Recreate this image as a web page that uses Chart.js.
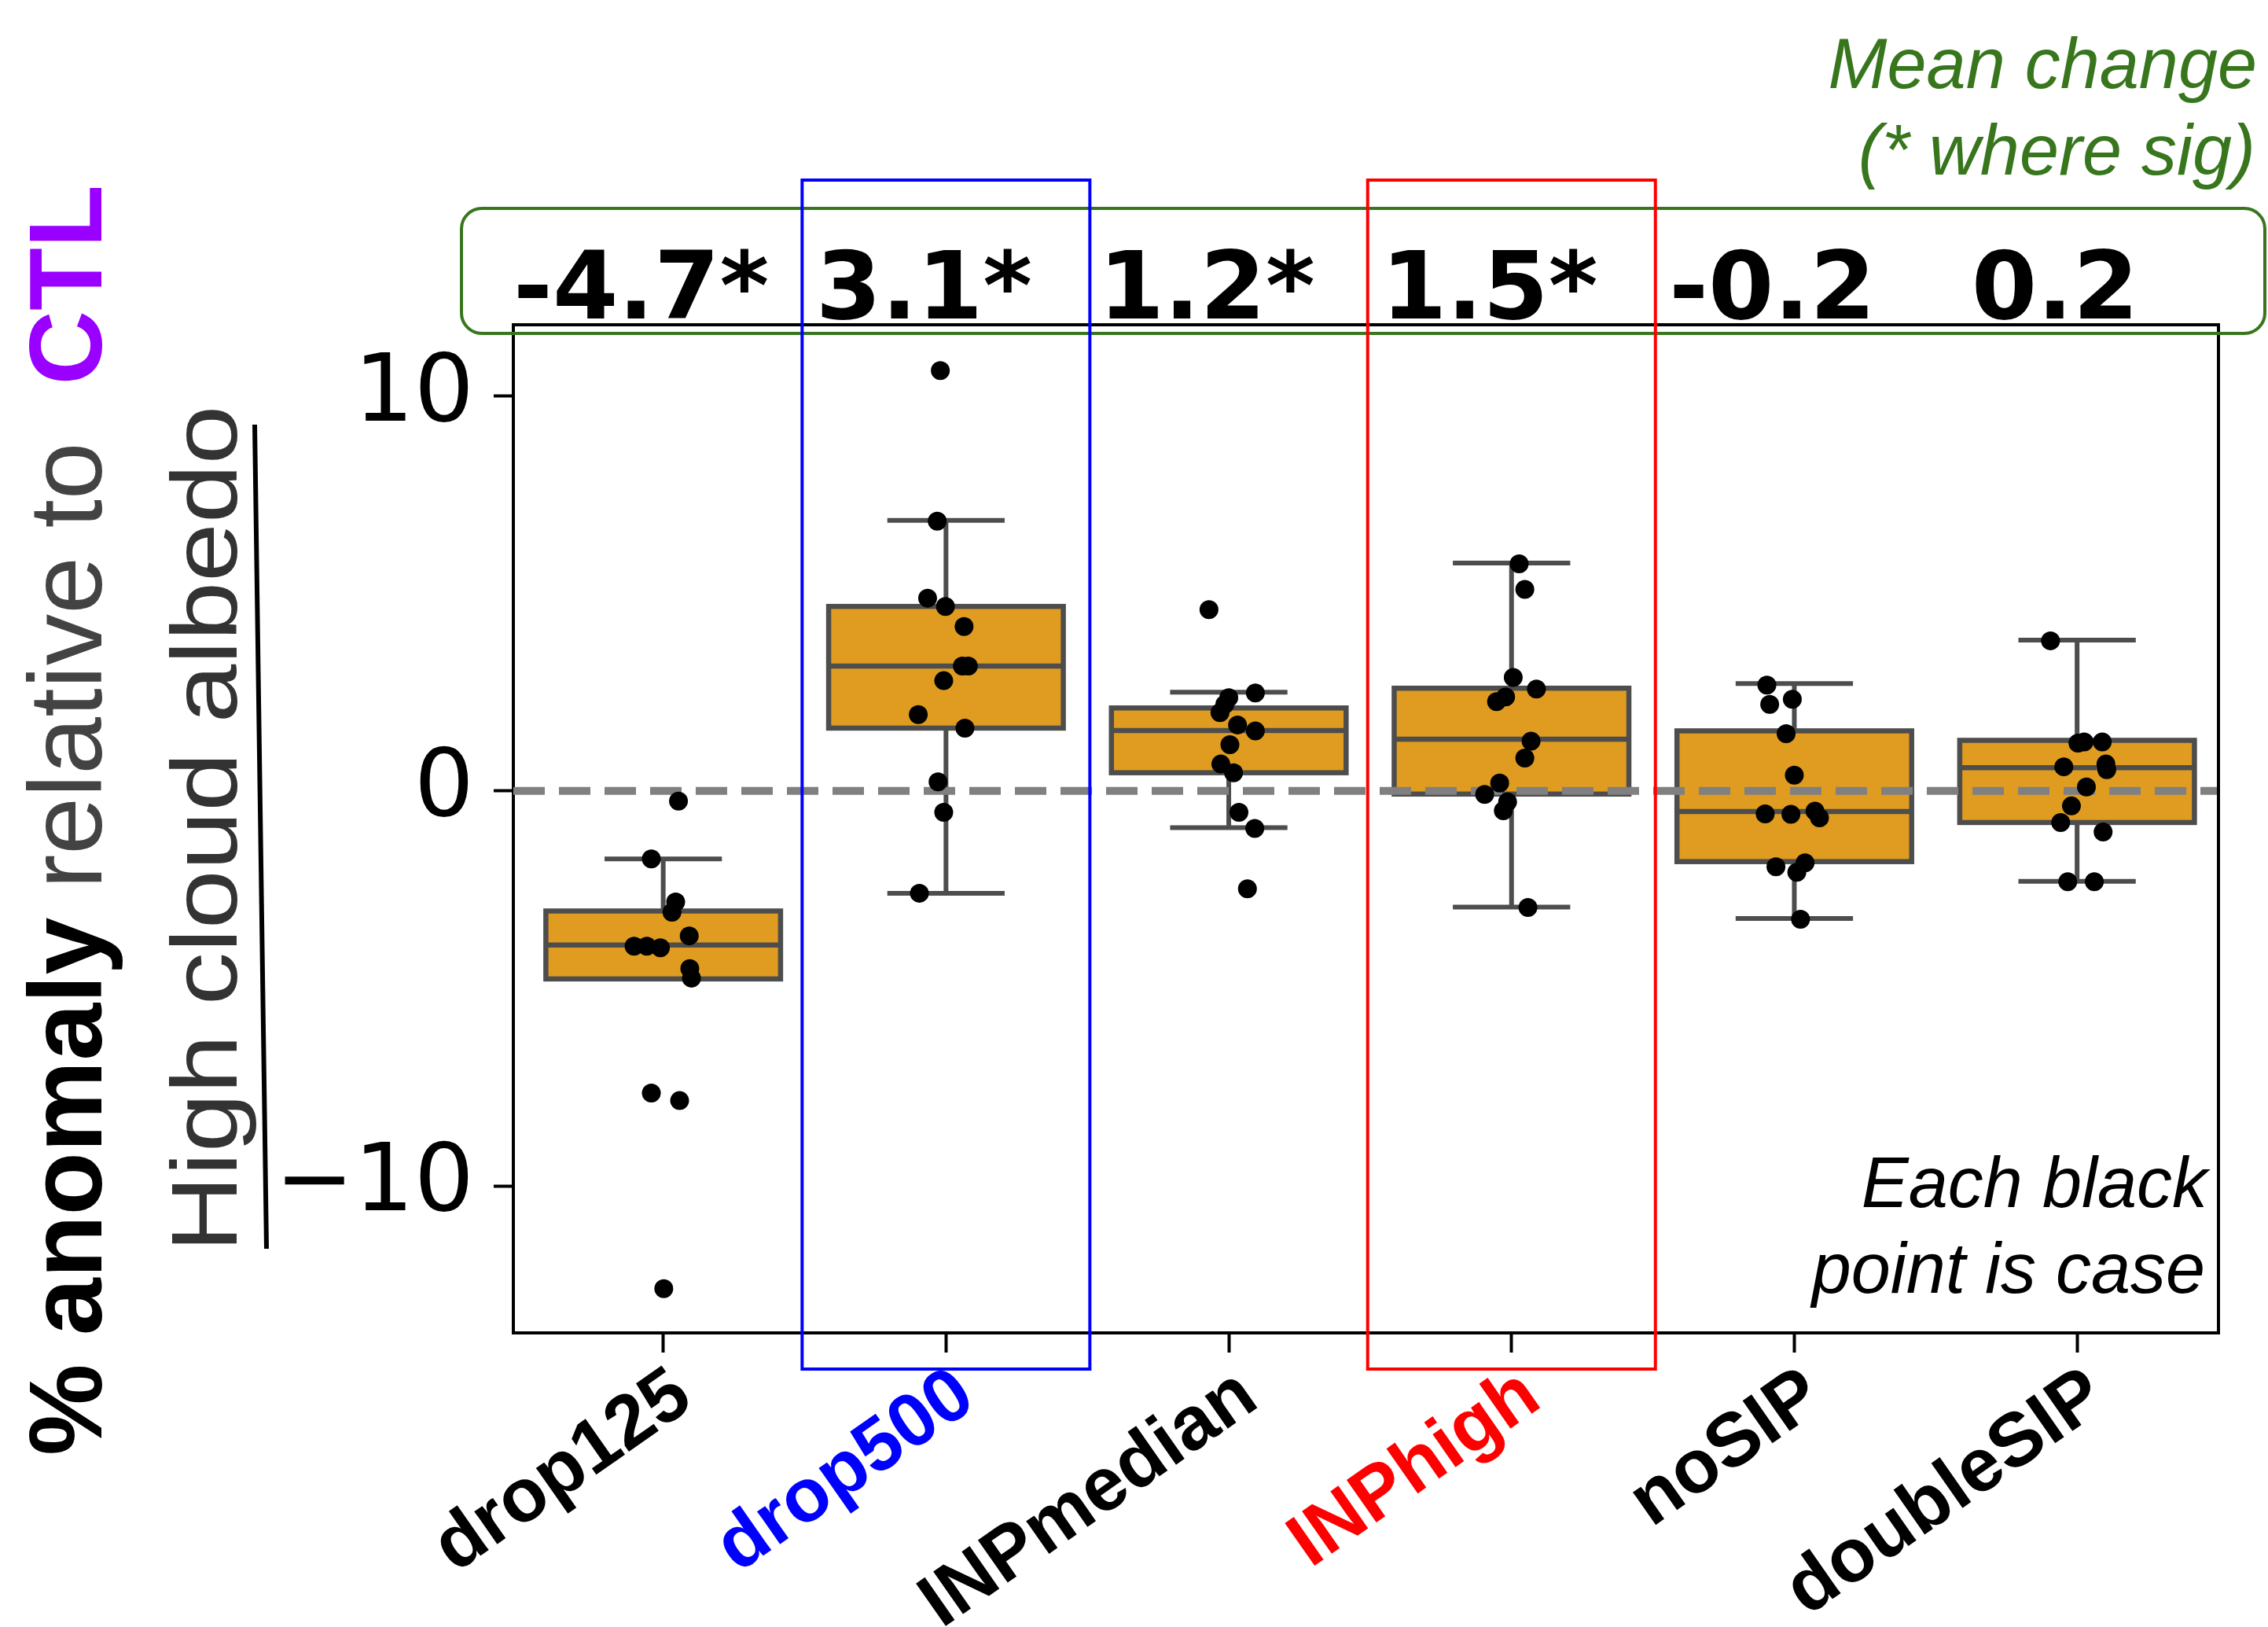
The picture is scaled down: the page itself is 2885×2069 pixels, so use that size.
<!DOCTYPE html>
<html>
<head>
<meta charset="utf-8">
<title>High cloud albedo anomaly by sensitivity run</title>
<script src="https://cdn.jsdelivr.net/npm/chart.js@4.4.1/dist/chart.umd.min.js"></script>
<style>
  html, body { margin: 0; padding: 0; background: #ffffff; }
  canvas { display: block; }
</style>
</head>
<body>
<canvas id="albedoChart" width="2885" height="2069"></canvas>
<script>
// ---- data -------------------------------------------------------------
const runs = ['drop125', 'drop500', 'INPmedian', 'INPhigh', 'noSIP', 'doubleSIP'];
const runColors = ['#000000', '#0000FF', '#000000', '#FF0000', '#000000', '#000000'];
const highlightedRuns = ['drop500', 'INPhigh'];

// mean change of each run, and whether it is significant
const meanChange = ['-4.7', '3.1', '1.2', '1.5', '-0.2', '0.2'];
const significant = [true, true, true, true, false, false];

// box statistics (% anomaly)
const q1 = [-4.76, 1.59, 0.46, -0.08, -1.79, -0.80];
const median = [-3.90, 3.16, 1.53, 1.31, -0.52, 0.59];
const q3 = [-3.04, 4.67, 2.10, 2.60, 1.52, 1.28];
const whiskerLow = [-4.76, -2.59, -0.93, -2.94, -3.23, -2.29];
const whiskerHigh = [-1.72, 6.85, 2.50, 5.77, 2.72, 3.82];

// individual cases (% anomaly) and their strip jitter (fraction of a category)
const drop125Cases = [-0.26, -1.72, -2.81, -3.07, -3.67, -3.93, -3.93, -3.97, -4.50, -4.74, -7.65, -7.84, -12.60];
const drop125Jitter = [0.054, -0.042, 0.044, 0.031, 0.092, -0.103, -0.058, -0.010, 0.094, 0.100, -0.042, 0.058, 0.002];
const drop500Cases = [10.64, 6.83, 4.88, 4.67, 4.16, 3.16, 3.16, 2.79, 1.93, 1.59, 0.23, -0.54, -2.59];
const drop500Jitter = [-0.020, -0.031, -0.065, -0.002, 0.064, 0.058, 0.079, -0.008, -0.098, 0.067, -0.028, -0.008, -0.094];
const inpMedianCases = [4.59, 2.48, 2.36, 2.19, 1.98, 1.67, 1.52, 1.17, 0.68, 0.46, -0.54, -0.95, -2.48];
const inpMedianJitter = [-0.070, 0.094, 0.000, -0.014, -0.031, 0.031, 0.094, 0.004, -0.028, 0.017, 0.036, 0.092, 0.066];
const inpHighCases = [5.75, 5.10, 2.87, 2.58, 2.38, 2.26, 1.26, 0.83, 0.20, -0.09, -0.28, -0.50, -2.95];
const inpHighJitter = [0.027, 0.047, 0.006, 0.088, -0.021, -0.053, 0.069, 0.047, -0.042, -0.095, -0.014, -0.029, 0.058];
const noSipCases = [2.68, 2.32, 2.19, 1.45, 0.40, -0.58, -0.59, -0.51, -0.68, -1.82, -1.92, -2.06, -3.25];
const noSipJitter = [-0.097, -0.007, -0.087, -0.029, 0.000, -0.103, -0.012, 0.073, 0.089, 0.038, -0.065, 0.009, 0.022];
const doubleSipCases = [3.80, 1.24, 1.24, 1.21, 0.68, 0.54, 0.61, 0.10, -0.38, -0.80, -1.04, -2.30, -2.30];
const doubleSipJitter = [-0.094, 0.025, 0.089, 0.003, 0.102, 0.105, -0.047, 0.033, -0.020, -0.058, 0.092, -0.033, 0.061];

const yTickValues = [-10, 0, 10];

// ---- build the point dataset ---------------------------------------------
const caseValues = [drop125Cases, drop500Cases, inpMedianCases, inpHighCases, noSipCases, doubleSipCases];
const caseJitter = [drop125Jitter, drop500Jitter, inpMedianJitter, inpHighJitter, noSipJitter, doubleSipJitter];
const casePoints = [];
caseValues.forEach((vals, i) => {
  vals.forEach((v, k) => casePoints.push({ x: i + caseJitter[i][k], y: v }));
});

// ---- style constants -----------------------------------------------------
const SANS = '"Liberation Sans", Arial, sans-serif';
const DEJAVU = '"DejaVu Sans", sans-serif';
const BOX_FILL = '#DF9C20';
const BOX_EDGE = '#4d4d4d';
const GREEN = '#38761D';
const BOX_HALF = 0.415;   // half box width, category units
const CAP_HALF = 0.2075;  // half whisker-cap width

function roundRectPath(ctx, x, y, w, h, r) {
  ctx.beginPath();
  ctx.moveTo(x + r, y);
  ctx.lineTo(x + w - r, y);
  ctx.arcTo(x + w, y, x + w, y + r, r);
  ctx.lineTo(x + w, y + h - r);
  ctx.arcTo(x + w, y + h, x + w - r, y + h, r);
  ctx.lineTo(x + r, y + h);
  ctx.arcTo(x, y + h, x, y + h - r, r);
  ctx.lineTo(x, y + r);
  ctx.arcTo(x, y, x + r, y, r);
  ctx.closePath();
}

// white page background
const background = {
  id: 'background',
  beforeDraw(chart) {
    const { ctx, width, height } = chart;
    ctx.save();
    ctx.fillStyle = '#ffffff';
    ctx.fillRect(0, 0, width, height);
    ctx.restore();
  }
};

// boxes, whiskers, medians and the zero reference line (under the points)
const boxes = {
  id: 'boxes',
  beforeDatasetsDraw(chart) {
    const { ctx, chartArea, scales: { x, y } } = chart;
    ctx.save();
    ctx.lineCap = 'butt';
    runs.forEach((run, i) => {
      const xc = x.getPixelForValue(i);
      const xl = x.getPixelForValue(i - BOX_HALF);
      const xr = x.getPixelForValue(i + BOX_HALF);
      const cl = x.getPixelForValue(i - CAP_HALF);
      const cr = x.getPixelForValue(i + CAP_HALF);
      const yq1 = y.getPixelForValue(q1[i]);
      const yq3 = y.getPixelForValue(q3[i]);
      const ym = y.getPixelForValue(median[i]);
      const ylo = y.getPixelForValue(whiskerLow[i]);
      const yhi = y.getPixelForValue(whiskerHigh[i]);

      ctx.strokeStyle = BOX_EDGE;
      ctx.lineWidth = 6;
      ctx.beginPath();
      ctx.moveTo(xc, yq3); ctx.lineTo(xc, yhi);
      ctx.moveTo(xc, yq1); ctx.lineTo(xc, ylo);
      ctx.moveTo(cl, yhi); ctx.lineTo(cr, yhi);
      ctx.moveTo(cl, ylo); ctx.lineTo(cr, ylo);
      ctx.stroke();

      ctx.fillStyle = BOX_FILL;
      ctx.fillRect(xl, yq3, xr - xl, yq1 - yq3);
      ctx.lineWidth = 6.5;
      ctx.strokeRect(xl, yq3, xr - xl, yq1 - yq3);
      ctx.beginPath();
      ctx.moveTo(xl, ym); ctx.lineTo(xr, ym);
      ctx.stroke();
    });

    const y0 = y.getPixelForValue(0);
    ctx.setLineDash([40, 18]);
    ctx.strokeStyle = '#808080';
    ctx.lineWidth = 10;
    ctx.beginPath();
    ctx.moveTo(chartArea.left, y0);
    ctx.lineTo(chartArea.right, y0);
    ctx.stroke();
    ctx.restore();
  }
};

// top and right frame lines
const frame = {
  id: 'frame',
  afterDatasetsDraw(chart) {
    const { ctx, chartArea: a } = chart;
    ctx.save();
    ctx.strokeStyle = '#000000';
    ctx.lineWidth = 4;
    ctx.beginPath();
    ctx.moveTo(a.left - 2, a.top);
    ctx.lineTo(a.right, a.top);
    ctx.lineTo(a.right, a.bottom + 2);
    ctx.stroke();
    ctx.restore();
  }
};

// annotations: mean-change row, highlight frames, notes and axis title
const annotations = {
  id: 'annotations',
  afterDraw(chart) {
    const { ctx, chartArea: a, scales: { x } } = chart;
    ctx.save();

    // mean change row
    ctx.fillStyle = '#000000';
    ctx.font = `bold 120px ${DEJAVU}`;
    ctx.textAlign = 'center';
    ctx.textBaseline = 'alphabetic';
    runs.forEach((run, i) => {
      const label = meanChange[i] + (significant[i] ? '*' : '');
      ctx.fillText(label, x.getPixelForValue(i) - 28, a.top - 8);
    });

    // green frame round the mean-change row
    ctx.strokeStyle = GREEN;
    ctx.lineWidth = 4;
    roundRectPath(ctx, 587, 265, 2294, 159, 26);
    ctx.stroke();

    // highlight frames round the selected runs
    ctx.lineWidth = 4;
    highlightedRuns.forEach(name => {
      const i = runs.indexOf(name);
      const xc = x.getPixelForValue(i);
      ctx.strokeStyle = runColors[i];
      ctx.strokeRect(xc - 183, 229, 366, 1512);
    });

    // legend note for the mean-change row
    ctx.fillStyle = GREEN;
    ctx.font = `italic 90px ${SANS}`;
    ctx.textAlign = 'right';
    ctx.fillText('Mean change', 2871, 112);
    ctx.fillText('(* where sig)', 2869, 222);

    // note on the points
    ctx.fillStyle = '#000000';
    ctx.fillText('Each black', 2808, 1535);
    ctx.fillText('point is case', 2805, 1644);

    // y axis title, line 1 (mixed styles)
    const segs = [
      { text: '% anomaly', font: `bold 131px ${SANS}`, color: '#000000' },
      { text: ' relative to  ', font: `131px ${SANS}`, color: '#434343' },
      { text: 'CTL', font: `bold 131px ${SANS}`, color: '#9900FF' }
    ];
    ctx.save();
    ctx.translate(129, 1043);
    ctx.rotate(-Math.PI / 2);
    let total = 0;
    segs.forEach(s => { ctx.font = s.font; s.w = ctx.measureText(s.text).width; total += s.w; });
    let pos = -total / 2;
    ctx.textAlign = 'left';
    segs.forEach(s => { ctx.font = s.font; ctx.fillStyle = s.color; ctx.fillText(s.text, pos, 0); pos += s.w; });
    ctx.restore();

    // y axis title, line 2 with its fraction bar
    ctx.save();
    ctx.translate(301, 1054);
    ctx.rotate(-Math.PI / 2);
    ctx.scale(1.13, 1);
    ctx.font = `119px ${SANS}`;
    ctx.fillStyle = '#333333';
    ctx.textAlign = 'center';
    ctx.fillText('High cloud albedo', 0, 0);
    ctx.restore();

    ctx.strokeStyle = '#000000';
    ctx.lineWidth = 6;
    ctx.beginPath();
    ctx.moveTo(324, 540);
    ctx.lineTo(339, 1588);
    ctx.stroke();

    ctx.restore();
  }
};

new Chart(document.getElementById('albedoChart'), {
  type: 'scatter',
  data: {
    datasets: [{
      label: 'cases',
      data: casePoints,
      backgroundColor: '#000000',
      borderWidth: 0,
      pointRadius: 12,
      pointHoverRadius: 12
    }]
  },
  options: {
    responsive: false,
    animation: false,
    devicePixelRatio: 1,
    events: [],
    layout: { padding: { left: 0, top: 413, right: 63, bottom: 0 } },
    plugins: { legend: { display: false }, tooltip: { enabled: false } },
    scales: {
      x: {
        type: 'linear',
        min: -0.53,
        max: 5.5,
        afterBuildTicks: s => { s.ticks = runs.map((r, i) => ({ value: i })); },
        afterFit: s => { s.height = 374; },
        grid: { display: true, drawOnChartArea: false, drawTicks: true, tickLength: 25, tickWidth: 4, tickColor: '#000000' },
        border: { display: true, color: '#000000', width: 4 },
        ticks: {
          autoSkip: false,
          minRotation: 35,
          maxRotation: 35,
          padding: -2,
          labelOffset: 26,
          font: { family: SANS, size: 96, weight: 'bold' },
          color: c => runColors[c.index] || '#000000',
          callback: v => runs[v]
        }
      },
      y: {
        min: -13.72,
        max: 11.80,
        afterBuildTicks: s => { s.ticks = yTickValues.map(v => ({ value: v })); },
        afterFit: s => { s.width = 653; },
        grid: { display: true, drawOnChartArea: false, drawTicks: true, tickLength: 25, tickWidth: 4, tickColor: '#000000' },
        border: { display: true, color: '#000000', width: 4 },
        ticks: {
          padding: 25,
          font: { family: DEJAVU, size: 120 },
          color: '#000000',
          callback: v => (v < 0 ? '\u2212' + Math.abs(v) : String(v))
        }
      }
    }
  },
  plugins: [background, boxes, frame, annotations]
});
</script>
</body>
</html>
